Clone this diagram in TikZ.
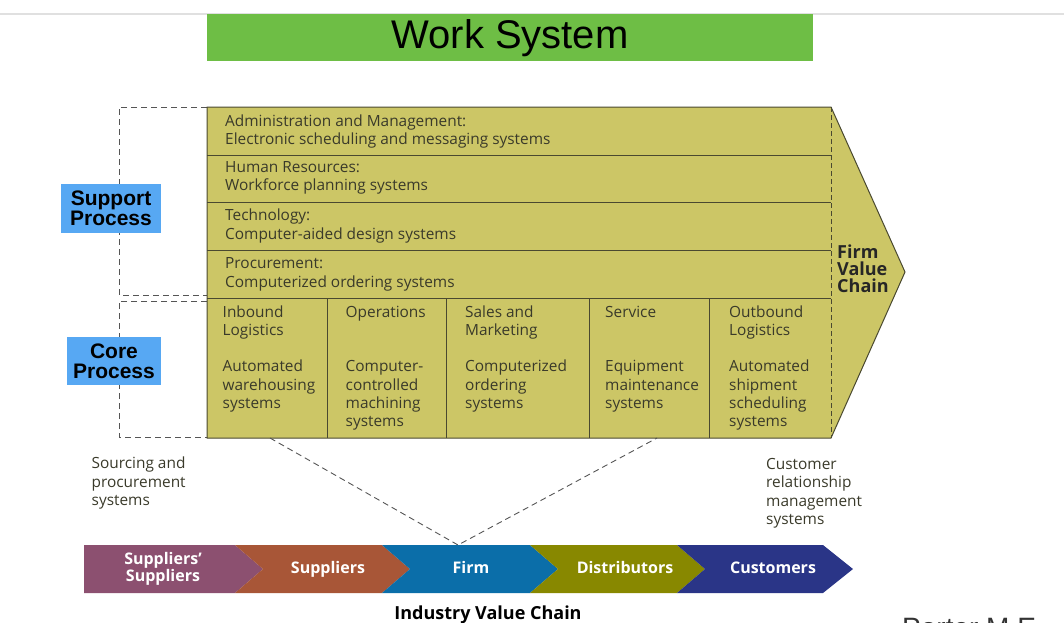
\documentclass[tikz,border=0pt]{standalone}
\usepackage{fontspec}
\setmainfont{Open Sans}
\newfontfamily\arialfont{Liberation Sans}
\definecolor{olivefill}{HTML}{CCC666}
\definecolor{olivedraw}{HTML}{4A4930}
\definecolor{bodytext}{HTML}{3A3A2A}
\definecolor{procblue}{HTML}{57A8F3}
\definecolor{titlegreen}{HTML}{6EBE45}
\definecolor{chvA}{HTML}{8C5070}
\definecolor{chvB}{HTML}{A85637}
\definecolor{chvC}{HTML}{0B6EA9}
\definecolor{chvD}{HTML}{888800}
\definecolor{chvE}{HTML}{2A3587}
\definecolor{dashgray}{HTML}{555555}
\begin{document}
\begin{tikzpicture}[x=1pt,y=-1pt,
  body/.style={anchor=base west,inner sep=0pt,align=left,text=bodytext,font=\fontsize{15.4}{18.3}\selectfont},
  fvc/.style={anchor=base west,inner sep=0pt,align=left,text=black!85,font=\bfseries\fontsize{18}{17}\selectfont},
  proc/.style={fill=procblue,inner sep=0pt,align=center,font=\arialfont\bfseries\fontsize{21}{20}\selectfont},
  chvtext/.style={anchor=base,inner sep=0pt,align=center,text=white,font=\bfseries\fontsize{16}{17.4}\selectfont},
  dashline/.style={draw=dashgray,dashed,dash pattern=on 6pt off 4pt,line width=0.9pt},
  olive/.style={fill=olivefill,draw=olivedraw,line width=1pt}]
\useasboundingbox (0,0) rectangle (1064,622);
% top shadow line
\draw[black!12,line width=1.2pt] (0,14) -- (1064,14);
% title
\fill[titlegreen] (207,14) rectangle (813,61);
\node[inner sep=0pt,font=\arialfont\fontsize{40}{40}\selectfont] (title) at (510,38) {Work System};
% left dashed brackets
\draw[dashline] (207,107) -- (119,107) -- (119,295) -- (207,295);
\draw[dashline] (207,301) -- (119,301) -- (119,437) -- (207,437);
\node[proc,minimum width=100pt,minimum height=49pt] (support) at (111,208.5) {Support\\Process};
\node[proc,minimum width=94pt,minimum height=48pt] (core) at (114,361) {Core\\Process};
% main arrow
\draw[olive] (207,107) -- (831,107) -- (905,272) -- (831,438) -- (207,438) -- cycle;
\draw[olivedraw,line width=1pt] (207,155) -- (831,155)
  (207,202) -- (831,202) (207,250) -- (831,250) (207,298) -- (831,298);
\draw[olivedraw,line width=1pt] (327,298) -- (327,438) (446,298) -- (446,438)
  (589,298) -- (589,438) (709,298) -- (709,438);
\draw[olivedraw,dashed,dash pattern=on 5pt off 3pt,line width=0.9pt] (831,107) -- (831,438);
% support rows (anchor = baseline of last line)
\node[body] (admin) at (225,144.5) {Administration and Management:\\Electronic scheduling and messaging systems};
\node[body] (hr) at (225,190.5) {Human Resources:\\Workforce planning systems};
\node[body] (tech) at (225,239) {Technology:\\Computer-aided design systems};
\node[body] (proc) at (225,287) {Procurement:\\Computerized ordering systems};
% core columns
\node[body] (inh) at (222.5,335.6) {Inbound\\Logistics};
\node[body] (ind) at (222.5,408.3) {Automated\\warehousing\\systems};
\node[body] (oph) at (345.5,317.3) {Operations};
\node[body] (opd) at (345.5,426.6) {Computer-\\controlled\\machining\\systems};
\node[body] (smh) at (465,335.6) {Sales and\\Marketing};
\node[body] (smd) at (465,408.3) {Computerized\\ordering\\systems};
\node[body] (svh) at (605,317.3) {Service};
\node[body] (svd) at (605,408.3) {Equipment\\maintenance\\systems};
\node[body] (obh) at (729,335.6) {Outbound\\Logistics};
\node[body] (obd) at (729,426.6) {Automated\\shipment\\scheduling\\systems};
\node[fvc] (fvc) at (837,292) {Firm\\Value\\Chain};
% side texts
\node[body] (sourcing) at (91.5,505.5) {Sourcing and\\procurement\\systems};
\node[body] (crm) at (766,524.5) {Customer\\relationship\\management\\systems};
% industry chevrons
\fill[chvA] (84,545) -- (235,545) -- (263,569) -- (235,593) -- (84,593) -- cycle;
\fill[chvB] (235,545) -- (382,545) -- (410,569) -- (382,593) -- (235,593) -- (263,569) -- cycle;
\fill[chvC] (382,545) -- (530,545) -- (558,569) -- (530,593) -- (382,593) -- (410,569) -- cycle;
\fill[chvD] (530,545) -- (677,545) -- (705,569) -- (677,593) -- (530,593) -- (558,569) -- cycle;
\fill[chvE] (677,545) -- (823,545) -- (853,569) -- (823,593) -- (677,593) -- (705,569) -- cycle;
\node[chvtext] (ss) at (163,581.7) {Suppliers'\\Suppliers};
\node[chvtext] (sup) at (328,573.3) {Suppliers};
\node[chvtext] (firm) at (471,573.3) {Firm};
\node[chvtext] (dist) at (625,573.3) {Distributors};
\node[chvtext] (cust) at (773,573.3) {Customers};
\coordinate (firmtop) at (458,545);
\coordinate (coreL) at (270,438);
\coordinate (coreR) at (657,438);
\draw[dashline] (coreL) -- (firmtop) -- (coreR);
\node[anchor=base,inner sep=0pt,font=\bfseries\fontsize{18}{18}\selectfont] (ivc) at (488,619) {Industry Value Chain};
\node[anchor=base west,inner sep=0pt,text=black!80,font=\arialfont\fontsize{28}{28}\selectfont] (porter) at (902,637) {Porter M.E.};
\end{tikzpicture}
\end{document}
